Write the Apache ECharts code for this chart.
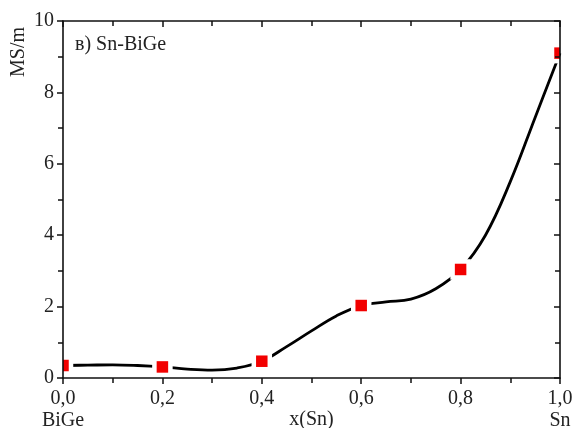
<!DOCTYPE html>
<html>
<head>
<meta charset="utf-8">
<script src="https://cdn.jsdelivr.net/npm/echarts@6/dist/echarts.min.js"></script>
<style>
html,body{margin:0;padding:0;background:#fff;}
#chart{width:572px;height:428px;}
</style>
</head>
<body>
<div id="chart"></div>
<script>
// Measured points (x fraction of Sn, conductivity MS/m)
var pointX = [0.0, 0.2, 0.4, 0.6, 0.8, 1.0];
var pointY = [0.35, 0.31, 0.47, 2.03, 3.04, 9.1];
// Fitted curve
var curveX = [0.0, 0.05, 0.1, 0.15, 0.2, 0.25, 0.3, 0.35, 0.4, 0.45, 0.5, 0.55, 0.6, 0.65, 0.7, 0.75, 0.8, 0.85, 0.9, 0.95, 1.0];
var curveY = [0.35, 0.36, 0.37, 0.35, 0.31, 0.25, 0.22, 0.28, 0.47, 0.88, 1.32, 1.74, 2.03, 2.13, 2.21, 2.5, 3.04, 4.0, 5.5, 7.3, 9.1];
// Tick labels
var xTickLabels = ['0,0', '0,2', '0,4', '0,6', '0,8', '1,0'];
var xEndNames = ['BiGe', 'Sn'];
var yTickLabels = ['0', '2', '4', '6', '8', '10'];
var xName = 'x(Sn)';
var yName = 'MS/m';
var panelLabel = 'в) Sn-BiGe';

var FONT = 'Liberation Serif';
var chart = echarts.init(document.getElementById('chart'), null, {renderer: 'canvas'});

var axisLine = {show: true, onZero: false, lineStyle: {color: '#111', width: 1.6}};

function xLabel(v) {
  var i = Math.round(v / 0.2);
  var s = xTickLabels[i];
  if (i === 0) s += '\n' + xEndNames[0];
  if (i === xTickLabels.length - 1) s += '\n' + xEndNames[1];
  return s;
}

var option = {
  animation: false,
  backgroundColor: '#fff',
  grid: {left: 63, right: 12, top: 21, bottom: 50, containLabel: false, outerBoundsMode: 'none'},
  xAxis: [{
    type: 'value', min: 0, max: 1, interval: 0.2, position: 'bottom', z: 5,
    axisLine: axisLine,
    axisTick: {show: true, inside: false, length: 6, lineStyle: {color: '#111', width: 1.5}},
    minorTick: {show: true, splitNumber: 2, length: 5, lineStyle: {color: '#111', width: 1.5}},
    splitLine: {show: false},
    axisLabel: {show: true, margin: 10, formatter: xLabel, color: '#222', fontFamily: FONT, fontSize: 20, lineHeight: 22, showMinLabel: true, showMaxLabel: true},
    name: xName, nameLocation: 'middle', nameGap: 32, nameMoveOverlap: false,
    nameTextStyle: {color: '#222', fontFamily: FONT, fontSize: 20}
  }, {
    type: 'value', min: 0, max: 1, interval: 0.2, position: 'top', z: 5,
    axisLine: axisLine,
    axisTick: {show: true, inside: true, length: 6, lineStyle: {color: '#111', width: 1.5}},
    minorTick: {show: true, splitNumber: 2, length: 5, lineStyle: {color: '#111', width: 1.5}},
    splitLine: {show: false},
    axisLabel: {show: false}
  }],
  yAxis: [{
    type: 'value', min: 0, max: 10, interval: 2, position: 'left', z: 5,
    axisLine: axisLine,
    axisTick: {show: true, inside: false, length: 6, lineStyle: {color: '#111', width: 1.5}},
    minorTick: {show: true, splitNumber: 2, length: 5, lineStyle: {color: '#111', width: 1.5}},
    splitLine: {show: false},
    axisLabel: {show: true, margin: 9, formatter: function (v) { return yTickLabels[Math.round(v / 2)]; }, color: '#222', fontFamily: FONT, fontSize: 20}
  }, {
    type: 'value', min: 0, max: 10, interval: 2, position: 'right', z: 5,
    axisLine: axisLine,
    axisTick: {show: true, inside: true, length: 6, lineStyle: {color: '#111', width: 1.5}},
    minorTick: {show: true, splitNumber: 2, length: 5, lineStyle: {color: '#111', width: 1.5}},
    splitLine: {show: false},
    axisLabel: {show: false}
  }],
  graphic: [{
    type: 'text', x: 9, y: 77, rotation: Math.PI / 2,
    style: {text: yName, fill: '#222', font: '20px "Liberation Serif"', textAlign: 'left', textVerticalAlign: 'top'}
  }, {
    type: 'text', x: 75, y: 35,
    style: {text: panelLabel, fill: '#222', font: '20px "Liberation Serif"'}
  }],
  series: [{
    type: 'line', xAxisIndex: 0, yAxisIndex: 0,
    data: curveX.map(function (x, i) { return [x, curveY[i]]; }),
    showSymbol: false, symbol: 'none', smooth: 0.4, clip: true,
    lineStyle: {color: '#000', width: 2.8},
    z: 2
  }, {
    type: 'custom', xAxisIndex: 0, yAxisIndex: 0, z: 3,
    data: pointX.map(function (x, i) { return [x, pointY[i]]; }),
    renderItem: function (params, api) {
      var p = api.coord([api.value(0), api.value(1)]);
      var cs = params.coordSys;
      var box = {x: cs.x, y: cs.y, width: cs.width, height: cs.height};
      var s = 11.5, g = 4.5;
      var white = echarts.graphic.clipRectByRect({x: p[0] - s / 2 - g, y: p[1] - s / 2 - g, width: s + 2 * g, height: s + 2 * g}, box);
      var red = echarts.graphic.clipRectByRect({x: p[0] - s / 2, y: p[1] - s / 2, width: s, height: s}, box);
      var children = [];
      if (white) children.push({type: 'rect', shape: white, style: {fill: '#fff'}});
      if (red) children.push({type: 'rect', shape: red, style: {fill: '#f20000'}});
      return {type: 'group', children: children};
    }
  }]
};
chart.setOption(option);
</script>
</body>
</html>
